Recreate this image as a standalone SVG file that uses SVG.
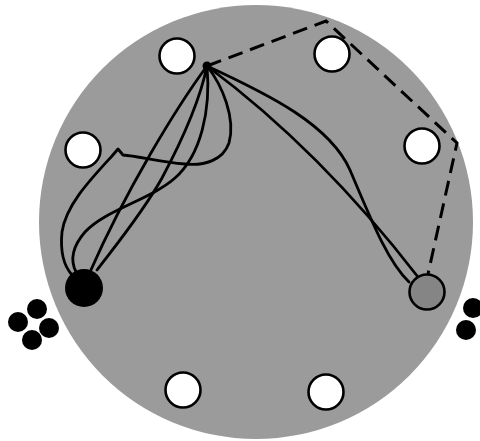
<svg xmlns="http://www.w3.org/2000/svg" width="480" height="441" viewBox="0 0 480 441">
<style>
.ring{fill:#fff;stroke:#000;stroke-width:2.6}
.edge{fill:none;stroke:#000;stroke-width:2.8;stroke-linecap:round;stroke-linejoin:round}
.dash{fill:none;stroke:#000;stroke-width:3;stroke-dasharray:15 8}
.blk{fill:#000}
</style>
<rect width="480" height="441" fill="#fff"/>
<g id="plate"><circle cx="256" cy="222" r="217" fill="#9b9b9b"/></g>
<g id="connectors">
<path class="dash" d="M207,66 L326,21 L457,143 L428,274"/>
<path class="edge" d="M207,66 C222,85 236,118 229,143 C223,160 205,166 185,164 C160,162 138,156 123,155 L118,149 L112,156 C90,180 66,205 62,232 C60,252 64,266 72,275"/>
<path class="edge" d="M207,66 C176,108 126,190 90,272"/>
<path class="edge" d="M207,66 C200,100 185,135 162,178 C142,214 112,250 97,270"/>
<path class="edge" d="M207,66 C211,110 201,155 175,178 C150,200 105,210 85,232 C72,247 70,260 76,272"/>
<path class="edge" d="M207,66 C270,95 330,125 350,170 C372,222 388,262 409,282"/>
<path class="edge" d="M207,66 Q320,150 418,277"/>
</g>
<g id="hub"><circle cx="207" cy="66" r="4.5" class="blk"/></g>
<g id="n1"><circle cx="177" cy="56" r="17.5" class="ring"/></g>
<g id="n2"><circle cx="332" cy="54" r="17.5" class="ring"/></g>
<g id="n3"><circle cx="83" cy="150" r="17.5" class="ring"/></g>
<g id="n4"><circle cx="422" cy="146" r="17.5" class="ring"/></g>
<g id="n5"><circle cx="183" cy="390" r="17.5" class="ring"/></g>
<g id="n6"><circle cx="326" cy="392" r="17.5" class="ring"/></g>
<g id="black-node"><circle cx="84" cy="288" r="19" class="blk"/></g>
<g id="gray-node"><circle cx="427" cy="292" r="17.5" fill="#858585" stroke="#000" stroke-width="2.6"/></g>
<g id="left-cluster">
<circle cx="37" cy="309" r="10" class="blk"/>
<circle cx="18" cy="322" r="10" class="blk"/>
<circle cx="49" cy="328" r="10" class="blk"/>
<circle cx="32" cy="340" r="10" class="blk"/>
</g>
<g id="right-cluster">
<circle cx="473" cy="308" r="10" class="blk"/>
<circle cx="466" cy="330" r="10" class="blk"/>
</g>
</svg>
